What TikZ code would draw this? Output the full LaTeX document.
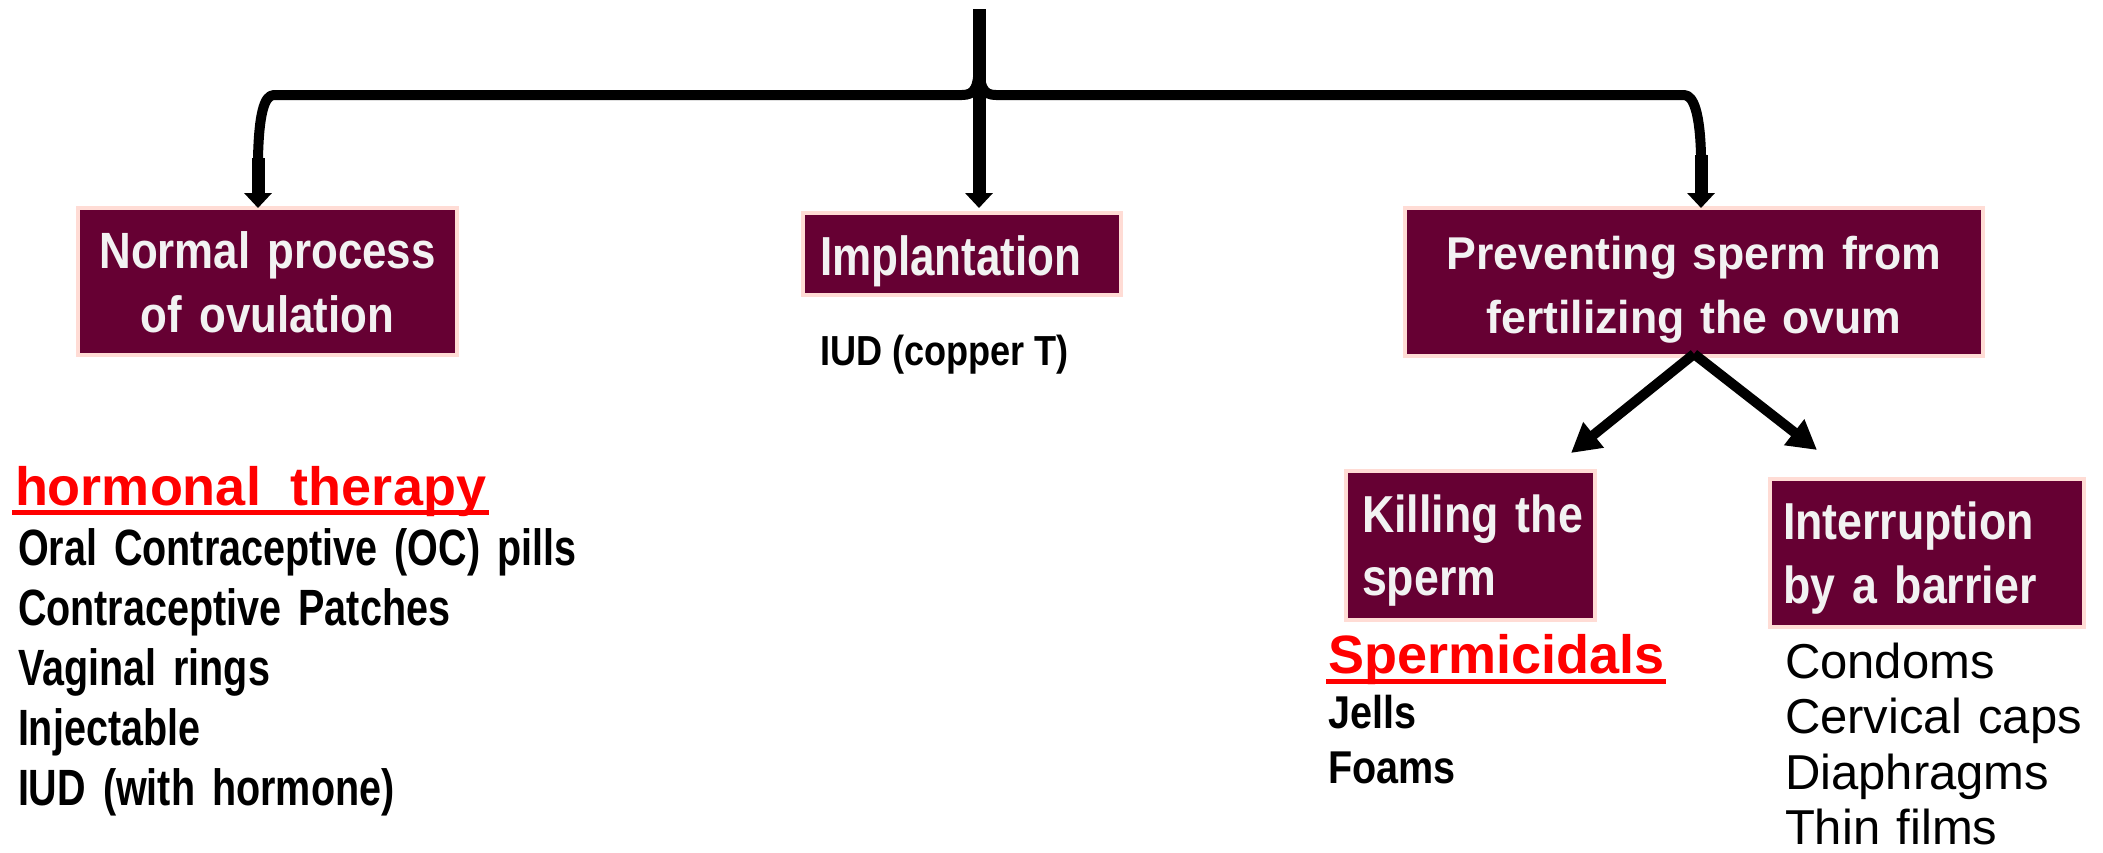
\documentclass[tikz,border=0pt]{standalone}
\usepackage{fontspec}
\setmainfont{Liberation Sans}
\newfontfamily\boxfont[FakeStretch=0.86]{Liberation Sans}
\newfontfamily\listfont[FakeStretch=0.80]{Liberation Sans}
\newfontfamily\narrowfont[FakeStretch=0.775]{Liberation Sans}
\newfontfamily\widefont[FakeStretch=0.97]{Liberation Sans}
\usetikzlibrary{arrows.meta}
\definecolor{maroon}{RGB}{102,0,51}
\definecolor{pinkedge}{RGB}{255,220,213}
\definecolor{boxtext}{RGB}{242,242,242}
\definecolor{headred}{RGB}{255,0,0}
\tikzset{
  mbox/.style={draw=pinkedge, line width=4.5pt, fill=maroon, text=boxtext, inner ysep=0pt, outer sep=0pt, anchor=north west},
  brace/.style={line width=10pt, line cap=butt, line join=round},
  shaft/.style={line width=13pt, -{Triangle[width=27pt,length=15pt]}},
  diag/.style={line width=10pt, -{Triangle[width=31pt,length=29pt]}},
  plain/.style={inner sep=0pt, outer sep=0pt, anchor=base west},
  uline/.style={headred, line width=5pt},
}
\begin{document}
\begin{tikzpicture}[x=1pt,y=-1pt]
\useasboundingbox (0,0) rectangle (2103,852);
% boxes
\node[mbox, minimum width=379pt, minimum height=147pt, inner xsep=5pt, text width=369pt, text height=60pt, text depth=87pt, align=center, font=\boxfont\bfseries\fontsize{51}{64}\selectfont] (ovbox) at (78,208) {Normal process\\of ovulation};
\node[mbox, minimum width=318pt, minimum height=82pt, inner xsep=17pt, text width=284pt, text height=62pt, text depth=20pt, align=left, font=\listfont\bfseries\fontsize{55}{64}\selectfont] (impbox) at (803,213) {Implantation};
\node[mbox, minimum width=578pt, minimum height=148pt, inner xsep=5pt, text width=568pt, text height=61pt, text depth=87pt, align=center, font=\widefont\bfseries\fontsize{46}{64}\selectfont] (prevbox) at (1405,208) {Preventing sperm from\\fertilizing the ovum};
\node[mbox, minimum width=249pt, minimum height=149pt, inner xsep=16pt, text width=217pt, text height=61pt, text depth=88pt, align=left, font=\boxfont\bfseries\fontsize{52}{63}\selectfont] (killbox) at (1346,471) {\mbox{Killing the}\\sperm};
\node[mbox, minimum width=314pt, minimum height=148pt, inner xsep=13pt, text width=288pt, text height=60pt, text depth=88pt, align=left, font=\boxfont\bfseries\fontsize{52}{64}\selectfont] (barbox) at (1770,479) {Interruption\\by a barrier};
% texts
\node[plain, text=headred, font=\bfseries\fontsize{54}{60}\selectfont] (hormhead) at (15,505) {hormonal~~therapy};
\draw[uline] ([xshift=-3pt,yshift=-7.5pt]hormhead.base west) -- ([xshift=3pt,yshift=-7.5pt]hormhead.base east);
\node[plain, text width=700pt, align=left, font=\narrowfont\bfseries\fontsize{51}{60}\selectfont] (hormlist) at (18,565) {Oral Contraceptive (OC) pills\\Contraceptive Patches\\Vaginal rings\\Injectable\\IUD (with hormone)};
\node[plain, font=\boxfont\bfseries\fontsize{42}{50}\selectfont] (iudcu) at (820,365) {IUD (copper T)};
\node[plain, text=headred, font=\bfseries\fontsize{54}{60}\selectfont] (spermhead) at (1328,673) {Spermicidals};
\draw[uline, line width=5.5pt] ([xshift=-2pt,yshift=-8.5pt]spermhead.base west) -- ([xshift=2pt,yshift=-8.5pt]spermhead.base east);
\node[plain, text width=300pt, align=left, font=\boxfont\bfseries\fontsize{46}{55}\selectfont] (spermlist) at (1328,728) {Jells\\Foams};
\node[plain, text width=310pt, align=left, font=\fontsize{49}{55.5}\selectfont] (barlist) at (1785,678) {Condoms\\Cervical caps\\Diaphragms\\Thin films};
% connectors
\coordinate (top) at (979,9);
\coordinate (mbend) at (979,95);
\coordinate (lbend) at (258,158);
\coordinate (rbend) at (1701,155);
\coordinate (kt) at (1571,453);
\coordinate (bt) at (1817,450);
\draw[line width=13pt] (top) -- (mbend);
\draw[brace] (979,58) .. controls (979,88) and (975,95) .. (962,95) -- (274,95) .. controls (264,95) and (259,115) .. (lbend);
\draw[brace] (979,58) .. controls (979,88) and (983,95) .. (996,95) -- (1684,95) .. controls (1694,95) and (1700,115) .. (rbend);
\draw[shaft] (lbend) -- (258,0 |- ovbox.north);
\draw[shaft, shorten >=5pt] (mbend) -- (979,0 |- impbox.north);
\draw[shaft] (rbend) -- (1701,0 |- prevbox.north);
\draw[diag] ([yshift=2pt]prevbox.south) -- (kt);
\draw[diag] ([yshift=2pt]prevbox.south) -- (bt);
\end{tikzpicture}
\end{document}
